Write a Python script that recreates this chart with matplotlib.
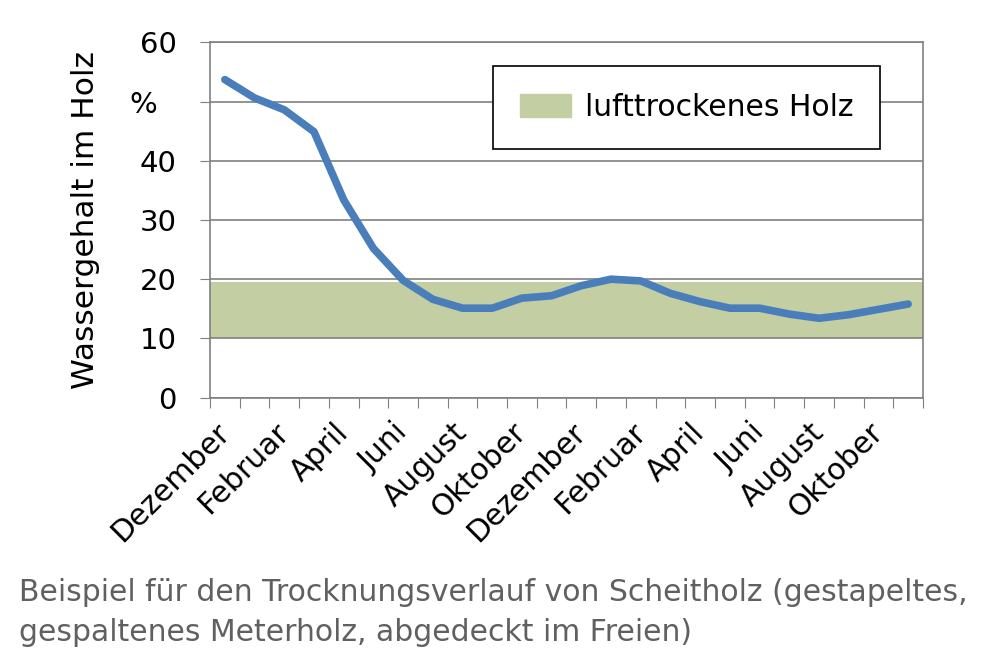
import matplotlib
matplotlib.use("Agg")
import matplotlib.pyplot as plt
import numpy as np
from matplotlib.patches import Patch

# monthly values, Dezember .. November (two years)
months = ["Dezember", "Januar", "Februar", "März", "April", "Mai", "Juni", "Juli",
          "August", "September", "Oktober", "November"] * 2
wassergehalt = [53.7, 50.6, 48.6, 44.9, 33.4, 25.2, 19.8, 16.6, 15.1, 15.1, 16.8, 17.2,
                18.9, 20.0, 19.7, 17.6, 16.2, 15.1, 15.1, 14.1, 13.4, 14.0, 14.9, 15.8]
band_low = 10
band_high = 19.5
yticks = [0, 10, 20, 30, 40, 50, 60]
yticklabels = ["0", "10", "20", "30", "40", "%  ", "60"]
caption_lines = ["Beispiel für den Trocknungsverlauf von Scheitholz (gestapeltes,",
                 "gespaltenes Meterholz, abgedeckt im Freien)"]

plt.rcParams['font.family'] = ['DejaVu Sans']

fig = plt.figure(figsize=(10, 6.66), dpi=100)
ax = fig.add_axes([0.21, 0.403, 0.713, 0.5335])

x = np.arange(len(wassergehalt))
ax.fill_between([-0.5, len(x) - 0.5], band_low, band_high, color="#c3cfa3", lw=0, zorder=1)
ax.plot(x, wassergehalt, color="#4a7ebb", lw=5.5, solid_capstyle="round", zorder=3)

ax.set_xlim(-0.5, len(x) - 0.5)
ax.set_ylim(0, 60)
ax.set_yticks(yticks)
ax.set_yticklabels(yticklabels, fontsize=21)
ax.yaxis.grid(True, color="#808080", lw=1.2, zorder=2)
ax.set_axisbelow(False)
ax.tick_params(axis="y", length=7, color="#808080", pad=17)

# tick marks between months, labels on every second month
ax.set_xticks(np.arange(-0.5, len(x), 1.0))
ax.set_xticklabels([])
ax.tick_params(axis="x", which="major", length=7, color="#808080")
ax.set_xticks(x[::2], minor=True)
ax.set_xticklabels(months[::2], minor=True, fontsize=21.5, rotation=45,
                   ha="right", va="center", rotation_mode="anchor")
ax.tick_params(axis="x", which="minor", length=0, pad=22)

for s in ax.spines.values():
    s.set_color("#808080")
    s.set_linewidth(1.2)

ax.set_ylabel("Wassergehalt im Holz", fontsize=22.5)
ax.yaxis.set_label_coords(-0.154, 0.5)

leg = ax.legend(handles=[Patch(color="#c3cfa3", label="lufttrockenes Holz")],
                loc="upper left", bbox_to_anchor=(0.397, 0.933), borderaxespad=0,
                fontsize=21.5, fancybox=False, edgecolor="black", framealpha=1,
                handlelength=1.7, handleheight=0.84, handletextpad=0.47,
                borderpad=0.9)
leg.get_frame().set_linewidth(1.2)

caption_y = [0.098, 0.038]
for line, yy in zip(caption_lines, caption_y):
    fig.text(0.019, yy, line, fontsize=21.5, color="#606060", va="baseline")

fig.savefig("out.png", dpi=100)
